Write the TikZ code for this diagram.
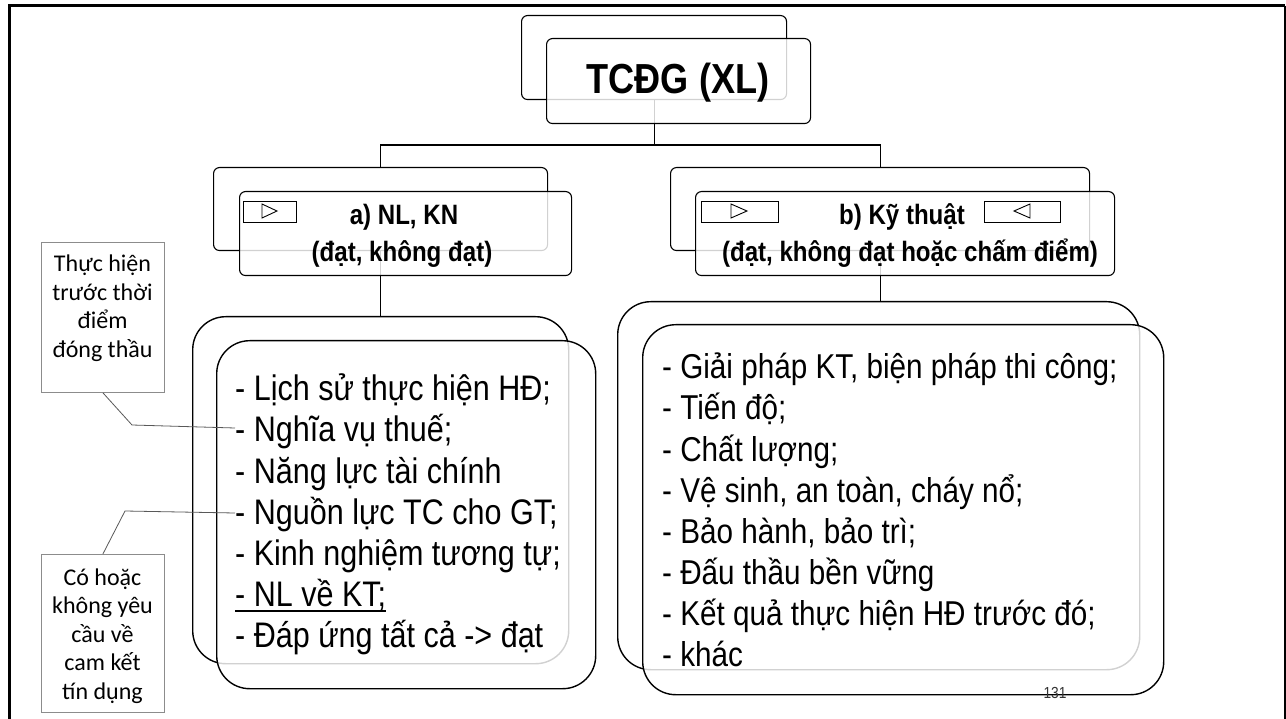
\documentclass[tikz,border=0pt]{standalone}
\usepackage{fontspec}
\setmainfont{Liberation Sans}[FakeStretch=0.86]
\newfontfamily\calfont{Carlito}
\usetikzlibrary{backgrounds}
\begin{document}
\begin{tikzpicture}[x=1pt,y=-1pt,
  bx/.style={draw=black,line width=1.1pt,rounded corners=6pt,fill=white,inner sep=0pt,anchor=north west},
  fr/.style={bx,fill opacity=0.82},
  bigb/.style={bx,line width=1.4pt,rounded corners=33pt},
  bigf/.style={bigb,fill opacity=0.82},
  conn/.style={draw=black,line width=1.1pt},
  l2txt/.style={anchor=base,inner sep=0pt,font=\bfseries\fontsize{28}{32}\selectfont},
  lst/.style={anchor=base west,inner sep=0pt,font=\fontsize{34.5}{40}\selectfont},
  lstl/.style={lst,font=\fontsize{35.5}{40}\selectfont},
  ctxt/.style={anchor=base,inner sep=0pt,font=\calfont\fontsize{24}{28}\selectfont},
  cbox/.style={draw=black!45,line width=0.8pt,fill=white,inner sep=0pt,anchor=north west},
  ptr/.style={draw=black!65,line width=0.8pt},
  smallr/.style={draw=black,line width=0.9pt}
]
\useasboundingbox (0,0) rectangle (1286,719);
\begin{pgfonlayer}{background}
\fill[white] (0,0) rectangle (1286,719);
\end{pgfonlayer}
% frame
\draw[line width=3pt] (9,719) -- (9,6) -- (1285,6);
\draw[line width=1.5pt] (1285,6) -- (1285,719);

% title
\node[bx,minimum width=265,minimum height=84] (tb) at (521,15) {};
\node[fr,minimum width=264,minimum height=85] (tf) at (546,38) {};
\node[anchor=base,inner sep=0pt,font=\bfseries\fontsize{42}{48}\selectfont] (tt) at (678,94) {TCĐG (XL)};

% level 2 left
\node[bx,minimum width=334,minimum height=83] (lb) at (213,167) {};
\node[fr,minimum width=332,minimum height=84] (lf) at (239,191) {};
\draw[smallr] (243,201) rectangle (296,222);
\draw[smallr] (262,204) -- (277,211) -- (262,218) -- cycle;
\node[l2txt] (la) at (404,225) {a) NL, KN};
\node[l2txt] (lc) at (402,262) {(đạt, không đạt)};

% level 2 right
\node[bx,minimum width=419,minimum height=83] (rb) at (670,167) {};
\node[fr,minimum width=419,minimum height=84] (rf) at (695,191) {};
\draw[smallr] (701,201) rectangle (778,222);
\draw[smallr] (731,204) -- (747,211) -- (731,218) -- cycle;
\draw[smallr] (984,201) rectangle (1060,222);
\draw[smallr] (1030,204) -- (1014,211) -- (1030,218) -- cycle;
\node[l2txt] (ra) at (902,225) {b) Kỹ thuật};
\node[l2txt] (rc) at (910,262) {(đạt, không đạt hoặc chấm điểm)};

% big boxes
\node[bigb,minimum width=376,minimum height=347] (lbb) at (192,316) {};
\node[bigf,minimum width=379,minimum height=348] (lbf) at (216,340) {};
\node[bigb,minimum width=522,minimum height=368] (rbb) at (617,301) {};
\node[bigf,minimum width=521,minimum height=370] (rbf) at (642,324) {};

% lists
\foreach \t [count=\i] in {{- Lịch sử thực hiện HĐ;},{- Nghĩa vụ thuế;},{- Năng lực tài chính},{- Nguồn lực TC cho GT;},{- Kinh nghiệm tương tự;},{- NL về KT;},{- Đáp ứng tất cả -> đạt}}
  \node[lstl] (a\i) at (235,{401+41*(\i-1)}) {\t};
\draw[line width=1.2pt] ([yshift=-5pt]a6.base west) -- ([yshift=-5pt]a6.base east);
\foreach \t [count=\i] in {{- Giải pháp KT, biện pháp thi công;},{- Tiến độ;},{- Chất lượng;},{- Vệ sinh, an toàn, cháy nổ;},{- Bảo hành, bảo trì;},{- Đấu thầu bền vững},{- Kết quả thực hiện HĐ trước đó;},{- khác}}
  \node[lst] (b\i) at (662,{379+41*(\i-1)}) {\t};

% callouts
\node[cbox,minimum width=123,minimum height=150] (c1) at (41,242) {};
\foreach \t [count=\i] in {Thực hiện,trước thời,điểm,đóng thầu}
  \node[ctxt] (c1t\i) at (102.5,{272+28.5*(\i-1)}) {\t};
\node[cbox,minimum width=123,minimum height=158] (c2) at (41,554) {};
\foreach \t [count=\i] in {Có hoặc,không yêu,cầu về,cam kết,tín dụng}
  \node[ctxt] (c2t\i) at (102.5,{585+28.5*(\i-1)}) {\t};
\coordinate (k1) at (132,425);
\coordinate (e1) at (235,428);
\draw[ptr] (c1.south) -- (k1) -- (e1);
\coordinate (k2) at (125,511);
\coordinate (e2) at (235,513);
\draw[ptr] (c2.north) -- (k2) -- (e2);

% page number
\node[anchor=base,inner sep=0pt,font=\fontsize{16}{18}\selectfont,text=black!80] (pg) at (1055,698) {131};

% connectors
\begin{pgfonlayer}{background}
\coordinate (jy) at (0,145);
\draw[conn] (tb.center) -- (tb.center |- jy);
\draw[conn] (lb.center) |- (tb.center |- jy) -| (rb.center);
\draw[conn] (lb.center) -- (lb.center |- lbb.north);
\draw[conn] (rb.center) -- (rb.center |- rbb.north);
\end{pgfonlayer}
\end{tikzpicture}
\end{document}
